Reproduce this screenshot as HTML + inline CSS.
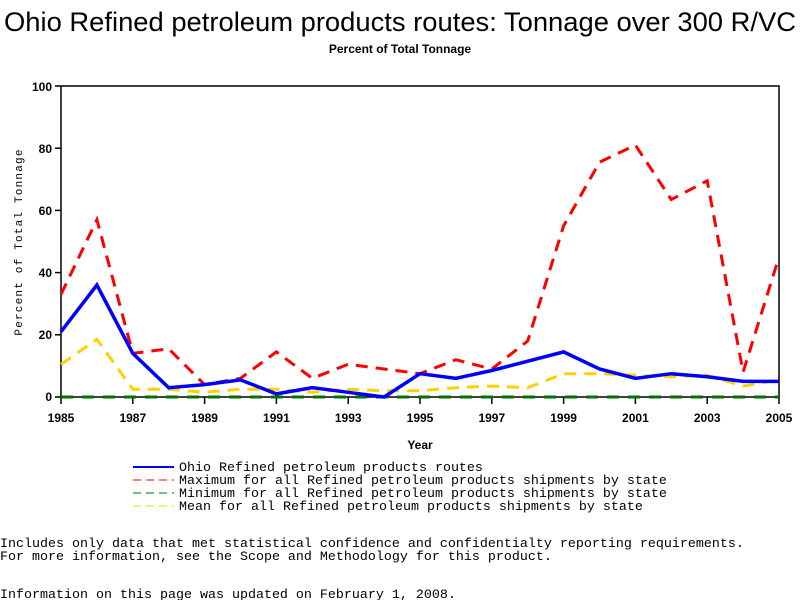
<!DOCTYPE html>
<html><head><meta charset="utf-8"><style>
body{margin:0;background:#fff;width:800px;height:600px;overflow:hidden}
svg{display:block}
.m{font-family:"Liberation Mono",monospace;font-size:13.33px}
.b{font-family:"Liberation Sans",sans-serif;font-weight:bold;font-size:12px}
</style></head><body>
<svg width="800" height="600" xmlns="http://www.w3.org/2000/svg">
<text x="400" y="31" text-anchor="middle" font-family="Liberation Sans, sans-serif" font-size="27" textLength="792" lengthAdjust="spacingAndGlyphs">Ohio Refined petroleum products routes: Tonnage over 300 R/VC</text>
<text x="400" y="53" text-anchor="middle" class="b" font-size="11">Percent of Total Tonnage</text>
<rect x="61" y="86" width="718" height="311" fill="none" stroke="#000" stroke-width="1.5"/>
<g stroke="#000" stroke-width="1.5">
<line x1="55" y1="86" x2="61" y2="86"/><line x1="55" y1="148.2" x2="61" y2="148.2"/><line x1="55" y1="210.4" x2="61" y2="210.4"/><line x1="55" y1="272.6" x2="61" y2="272.6"/><line x1="55" y1="334.8" x2="61" y2="334.8"/><line x1="55" y1="397" x2="61" y2="397"/>
<line x1="61" y1="397" x2="61" y2="404"/><line x1="132.8" y1="397" x2="132.8" y2="404"/><line x1="204.6" y1="397" x2="204.6" y2="404"/><line x1="276.4" y1="397" x2="276.4" y2="404"/><line x1="348.2" y1="397" x2="348.2" y2="404"/><line x1="420" y1="397" x2="420" y2="404"/><line x1="491.8" y1="397" x2="491.8" y2="404"/><line x1="563.6" y1="397" x2="563.6" y2="404"/><line x1="635.4" y1="397" x2="635.4" y2="404"/><line x1="707.2" y1="397" x2="707.2" y2="404"/><line x1="779" y1="397" x2="779" y2="404"/>
</g>
<g class="b" text-anchor="end">
<text x="52" y="91">100</text><text x="52" y="153">80</text><text x="52" y="215">60</text><text x="52" y="277">40</text><text x="52" y="339">20</text><text x="52" y="401">0</text>
</g>
<g class="b" text-anchor="middle">
<text x="61" y="422">1985</text><text x="132.8" y="422">1987</text><text x="204.6" y="422">1989</text><text x="276.4" y="422">1991</text><text x="348.2" y="422">1993</text><text x="420" y="422">1995</text><text x="491.8" y="422">1997</text><text x="563.6" y="422">1999</text><text x="635.4" y="422">2001</text><text x="707.2" y="422">2003</text><text x="779" y="422">2005</text>
<text x="420" y="449">Year</text>
</g>
<text transform="translate(22,242) rotate(-90)" text-anchor="middle" font-family="Liberation Mono, monospace" font-size="11" letter-spacing="1.2">Percent of Total Tonnage</text>
<line x1="61" y1="397" x2="779" y2="397" stroke="#007000" stroke-width="3" stroke-dasharray="12,9"/>
<polyline fill="none" stroke="#ffd000" stroke-width="3" stroke-dasharray="12,8" points="61,364.3 96.9,339.4 132.8,389.2 168.7,389.2 204.6,392.3 240.5,389.2 276.4,389.2 312.3,392.3 348.2,389.2 384.1,390.8 420,390.8 455.9,387.7 491.8,386.1 527.7,387.7 563.6,373.7 599.5,373.7 635.4,375.2 671.3,376.8 707.2,375.2 743.1,386.1 779,379.9"/>
<polyline fill="none" stroke="#ff0000" stroke-width="3" stroke-dasharray="12,8" points="61,294.4 96.9,219.7 132.8,353.4 168.7,348.8 204.6,384.6 240.5,378.3 276.4,351.9 312.3,378.3 348.2,364.3 384.1,369 420,373.7 455.9,359.7 491.8,369 527.7,341 563.6,225.9 599.5,162.2 635.4,145.1 671.3,199.5 707.2,180.8 743.1,372.1 779,257"/>
<polyline fill="none" stroke="#0000ff" stroke-width="3.5" points="61,331.7 96.9,285 132.8,353.4 168.7,387.7 204.6,384.6 240.5,379.9 276.4,393.9 312.3,387.7 348.2,392.3 384.1,397 420,373.7 455.9,378.3 491.8,370.5 527.7,361.2 563.6,351.9 599.5,369 635.4,378.3 671.3,373.7 707.2,376.8 743.1,381.4 779,381.4"/>
<g class="m">
<line x1="133" y1="467" x2="174" y2="467" stroke="#0000ff" stroke-width="2"/><text x="179" y="471">Ohio Refined petroleum products routes</text>
<line x1="133" y1="480" x2="174" y2="480" stroke="#ff0000" stroke-dasharray="8,5"/><text x="179" y="484">Maximum for all Refined petroleum products shipments by state</text>
<line x1="133" y1="493" x2="174" y2="493" stroke="#007000" stroke-dasharray="8,5"/><text x="179" y="497">Minimum for all Refined petroleum products shipments by state</text>
<line x1="133" y1="506" x2="174" y2="506" stroke="#ffd000" stroke-dasharray="8,5"/><text x="179" y="510">Mean for all Refined petroleum products shipments by state</text>
<text x="0" y="547">Includes only data that met statistical confidence and confidentialty reporting requirements.</text>
<text x="0" y="560">For more information, see the Scope and Methodology for this product.</text>
<text x="0" y="598">Information on this page was updated on February 1, 2008.</text>
</g>
</svg>
</body></html>
